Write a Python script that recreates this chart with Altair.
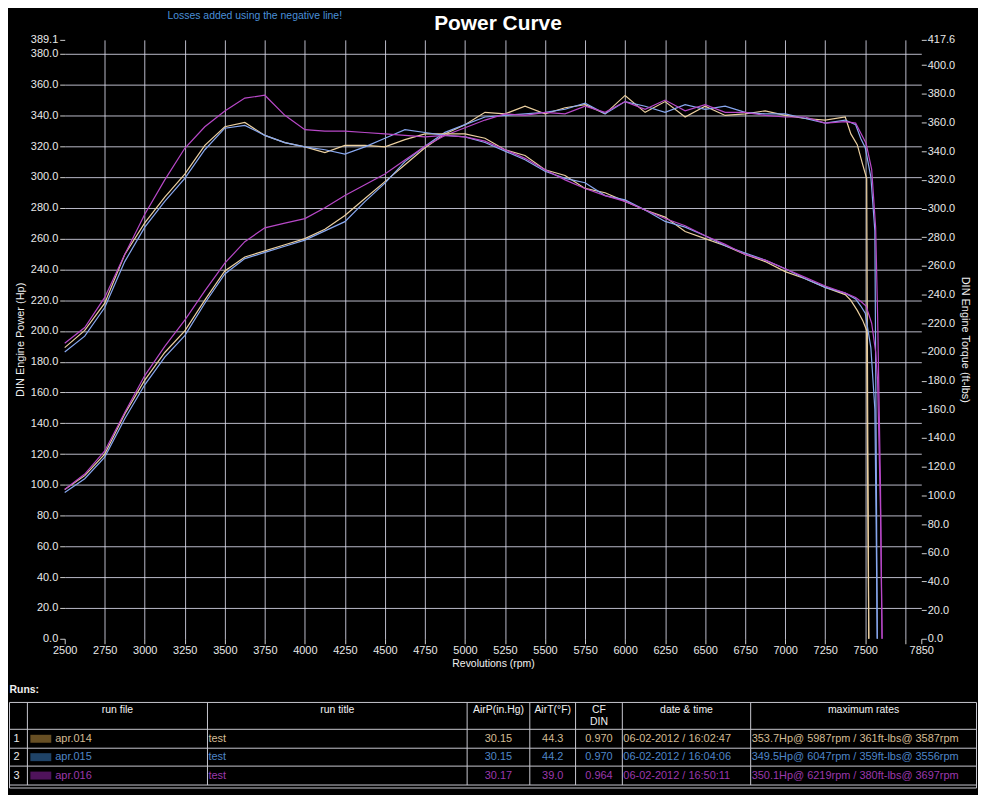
import altair as alt
import pandas as pd

# ---------------- text ----------------
title_text = "Power Curve"
note_text = "Losses added using the negative line!"
x_title = "Revolutions (rpm)"
y_left_title = "DIN Engine Power (Hp)"
y_right_title = "DIN Engine Torque (ft-lbs)"

# ---------------- runs ----------------
run_ids = ["1", "2", "3"]
run_files = ["apr.014", "apr.015", "apr.016"]
run_titles = ["test", "test", "test"]
air_p = ["30.15", "30.15", "30.17"]
air_t = ["44.3", "44.2", "39.0"]
cf_din = ["0.970", "0.970", "0.964"]
date_time = ["06-02-2012 / 16:02:47", "06-02-2012 / 16:04:06", "06-02-2012 / 16:50:11"]
max_rates = [
    "353.7Hp@ 5987rpm / 361ft-lbs@ 3587rpm",
    "349.5Hp@ 6047rpm / 359ft-lbs@ 3556rpm",
    "350.1Hp@ 6219rpm / 380ft-lbs@ 3697rpm",
]
header_labels = ["", "run file", "run title", "AirP(in.Hg)", "AirT(°F)", "CF\nDIN", "date & time", "maximum rates"]

# ---------------- curves ----------------
rpm_common = [2500, 2625, 2750, 2875, 3000, 3125, 3250, 3375, 3500, 3625,
              3750, 3875, 4000, 4125, 4250, 4375, 4500, 4625, 4750, 4875,
              5000, 5125, 5250, 5375, 5500, 5625, 5750, 5875, 6000, 6125,
              6250, 6375, 6500, 6625, 6750, 6875, 7000, 7125, 7250, 7375]

power_1 = [97, 106, 120, 146, 168, 186, 200, 220, 239, 248,
           252, 256, 260, 266, 275, 286, 297, 308, 319, 328,
           334, 342, 341, 346, 341, 345, 347, 341, 353, 342,
           349, 339, 346, 340, 341, 343, 340, 338, 337, 339]
power_2 = [95, 104, 118, 143, 165, 183, 197, 218, 237, 247,
           251, 255, 259, 265, 271, 284, 296, 310, 320, 329,
           334, 339, 340, 341, 342, 344, 348, 341, 349, 346,
           342, 347, 344, 346, 342, 341, 341, 338, 335, 337]
power_3 = [97, 107, 122, 147, 171, 190, 207, 226, 244, 258,
           267, 270, 273, 280, 288, 295, 302, 311, 320, 327,
           332, 337, 341, 340, 342, 341, 346, 342, 349, 344,
           350, 343, 347, 342, 342, 340, 339, 339, 335, 336]

torque_1 = [203, 215, 234, 268, 290, 308, 324, 344, 357, 360,
            351, 346, 343, 339, 344, 344, 343, 348, 352, 352,
            352, 349, 341, 337, 327, 323, 314, 311, 305, 299,
            294, 284, 279, 274, 268, 263, 256, 251, 245, 240]
torque_2 = [200, 211, 231, 263, 287, 305, 321, 341, 356, 358,
            351, 346, 343, 341, 338, 343, 349, 355, 353, 351,
            350, 346, 340, 334, 326, 321, 318, 309, 306, 299,
            291, 287, 281, 274, 269, 264, 258, 251, 245, 241]
torque_3 = [206, 217, 238, 268, 296, 320, 342, 357, 368, 377,
            379, 365, 355, 354, 354, 353, 352, 351, 350, 351,
            350, 347, 341, 335, 327, 320, 314, 309, 305, 299,
            293, 288, 281, 275, 268, 264, 258, 252, 246, 241]

# end of pull / drop to zero
tail_rpm_1 = [7410, 7450, 7484, 7509, 7515, 7522]
tail_power_1 = [328, 321, 308, 299, 150, 0]
tail_torque_1 = [236, 229, 222, 215, 110, 0]
tail_rpm_2 = [7440, 7472, 7500, 7535, 7560, 7568, 7575]
tail_power_2 = [334, 325, 319, 300, 265, 130, 0]
tail_torque_2 = [237, 232, 227, 203, 160, 80, 0]
tail_rpm_3 = [7440, 7475, 7505, 7540, 7565, 7577, 7595, 7605]
tail_power_3 = [335, 328, 322, 305, 267, 211, 100, 0]
tail_torque_3 = [238, 235, 232, 220, 200, 180, 90, 0]

x_tick_values = [2500, 2750, 3000, 3250, 3500, 3750, 4000, 4250, 4500, 4750, 5000,
                 5250, 5500, 5750, 6000, 6250, 6500, 6750, 7000, 7250, 7500, 7750, 7850]
y_left_ticks = [0, 20, 40, 60, 80, 100, 120, 140, 160, 180, 200, 220, 240, 260,
                280, 300, 320, 340, 360, 380, 389.1]
y_right_ticks = [0, 20, 40, 60, 80, 100, 120, 140, 160, 180, 200, 220, 240, 260,
                 280, 300, 320, 340, 360, 380, 400, 417.6]

# ---------------- styles ----------------
line_colors = ["#ecd0a0", "#88a8f0", "#b848c8"]
text_colors = ["#d4bc94", "#4f86c8", "#9c38ac"]
swatch_colors = ["#8a6a30", "#2a5a8a", "#6a1a7a"]
FONT = "Liberation Sans"

# ---------------- build curve table ----------------
rows = []
series = [
    (power_1, torque_1, tail_rpm_1, tail_power_1, tail_torque_1),
    (power_2, torque_2, tail_rpm_2, tail_power_2, tail_torque_2),
    (power_3, torque_3, tail_rpm_3, tail_power_3, tail_torque_3),
]
for name, (pw, tq, trpm, tpw, ttq) in zip(run_files, series):
    for i, (r, h, t) in enumerate(zip(rpm_common + trpm, pw + tpw, tq + ttq)):
        rows.append({"run": name, "idx": i, "rpm": r, "hp": h, "tq": t})
curves = pd.DataFrame(rows)

color = alt.Color("run:N", scale=alt.Scale(domain=run_files, range=line_colors), legend=None)
x_enc = alt.X(
    "rpm:Q",
    scale=alt.Scale(domain=[2500, 7850], nice=False, zero=False),
    axis=alt.Axis(
        values=x_tick_values, format="d",
        labelExpr="datum.value == 7750 ? '' : datum.label",
        title=x_title, tickSize=5, labelPadding=1, titlePadding=3,
        labelFlush=False, labelOverlap=False, titleFontSize=10.5,
        gridOpacity={"condition": {"test": "datum.value == 2500 || datum.value == 7850", "value": 0},
                     "value": 0.85},
    ),
)

power_layer = alt.Chart(curves).mark_line(strokeWidth=1.2).encode(
    x=x_enc,
    y=alt.Y(
        "hp:Q",
        scale=alt.Scale(domain=[0, 389.1], nice=False, zero=True),
        axis=alt.Axis(
            values=y_left_ticks, format=".1f", title=y_left_title, tickSize=5,
            labelPadding=2, titlePadding=5, labelOverlap=False, labelFlush=False,
            gridOpacity={"condition": {"test": "datum.value == 0 || datum.value > 385", "value": 0},
                         "value": 0.85},
        ),
    ),
    color=color,
    order="idx:Q",
)

torque_layer = alt.Chart(curves).mark_line(strokeWidth=1.2).encode(
    x=x_enc,
    y=alt.Y(
        "tq:Q",
        scale=alt.Scale(domain=[0, 417.6], nice=False, zero=True),
        axis=alt.Axis(
            orient="right", values=y_right_ticks, format=".1f", title=y_right_title,
            tickSize=5, labelPadding=1, titlePadding=5, grid=False,
            labelOverlap=False, labelFlush=False,
        ),
    ),
    color=color,
    order="idx:Q",
)

note = alt.Chart(pd.DataFrame({"t": [note_text]})).mark_text(
    font=FONT, fontSize=10.5, color="#4a8fd8", align="center", baseline="middle"
).encode(text="t:N", x=alt.value(191), y=alt.value(-24))

main = alt.layer(power_layer, torque_layer, note).resolve_scale(y="independent").properties(
    width=861, height=602,
    title=alt.TitleParams(title_text, font=FONT, fontSize=21, fontWeight="bold",
                          color="#ffffff", anchor="middle", offset=9, dx=5, dy=32),
)

# ---------------- runs table ----------------
col_edges = [8, 26, 207, 468, 531, 577, 624, 753, 980]
row_edges = [704, 731, 750, 768, 787]
table_bottom = 790
header_top = 707
runs_label_y = 691

col_centers = [(a + b) / 2 for a, b in zip(col_edges[:-1], col_edges[1:])]
row_centers = [(row_edges[i] + row_edges[i + 1]) / 2 for i in range(1, 4)]

tx = alt.Scale(domain=[63.5, 924.5], nice=False, zero=False)
ty = alt.Scale(domain=[684, 794], nice=False, zero=False, reverse=True)

hl = pd.DataFrame({
    "x": [col_edges[0]] * 6, "x2": [col_edges[-1]] * 6,
    "y": row_edges + [table_bottom],
})
vl = pd.DataFrame({
    "x": col_edges,
    "y": [row_edges[0]] * len(col_edges),
    "y2": [table_bottom] + [row_edges[-1]] * (len(col_edges) - 2) + [table_bottom],
})

hrule = alt.Chart(hl).mark_rule(color="#c8c8d0", strokeWidth=1).encode(
    x=alt.X("x:Q", scale=tx, axis=None), x2="x2:Q", y=alt.Y("y:Q", scale=ty, axis=None))
vrule = alt.Chart(vl).mark_rule(color="#c8c8d0", strokeWidth=1).encode(
    x=alt.X("x:Q", scale=tx, axis=None), y=alt.Y("y:Q", scale=ty, axis=None), y2="y2:Q")

sw = pd.DataFrame({
    "x": [col_edges[1] + 3] * 3, "x2": [col_edges[1] + 24] * 3,
    "y": [c - 4 for c in row_centers], "y2": [c + 4 for c in row_centers],
    "c": swatch_colors,
})
swatch = alt.Chart(sw).mark_rect(opacity=0.75).encode(
    x=alt.X("x:Q", scale=tx, axis=None), x2="x2:Q",
    y=alt.Y("y:Q", scale=ty, axis=None), y2="y2:Q",
    color=alt.Color("c:N", scale=None))

hd = pd.DataFrame({"x": col_centers[1:], "y": [header_top] * 7, "t": header_labels[1:]})
header = alt.Chart(hd).mark_text(
    font=FONT, fontSize=10.5, color="#f0f0f0", align="center", baseline="top", lineBreak="\n", lineHeight=12
).encode(x=alt.X("x:Q", scale=tx, axis=None), y=alt.Y("y:Q", scale=ty, axis=None), text="t:N")

cc, cl = [], []
for i in range(3):
    y = row_centers[i]
    cc.append({"x": col_centers[0] - 2, "y": y, "t": run_ids[i], "c": "#e8e8e8"})
    cc.append({"x": col_centers[3], "y": y, "t": air_p[i], "c": text_colors[i]})
    cc.append({"x": col_centers[4], "y": y, "t": air_t[i], "c": text_colors[i]})
    cc.append({"x": col_centers[5], "y": y, "t": cf_din[i], "c": text_colors[i]})
    cl.append({"x": col_edges[1] + 28, "y": y, "t": run_files[i], "c": text_colors[i]})
    cl.append({"x": col_edges[2] + 1, "y": y, "t": run_titles[i], "c": text_colors[i]})
    cl.append({"x": col_edges[6] + 1, "y": y, "t": date_time[i], "c": text_colors[i]})
    cl.append({"x": col_edges[7] + 1, "y": y, "t": max_rates[i], "c": text_colors[i]})

row_c = alt.Chart(pd.DataFrame(cc)).mark_text(
    font=FONT, fontSize=11, align="center", baseline="middle"
).encode(x=alt.X("x:Q", scale=tx, axis=None), y=alt.Y("y:Q", scale=ty, axis=None),
         text="t:N", color=alt.Color("c:N", scale=None))
row_l = alt.Chart(pd.DataFrame(cl)).mark_text(
    font=FONT, fontSize=11, align="left", baseline="middle"
).encode(x=alt.X("x:Q", scale=tx, axis=None), y=alt.Y("y:Q", scale=ty, axis=None),
         text="t:N", color=alt.Color("c:N", scale=None))
runs_lbl = alt.Chart(pd.DataFrame({"x": [col_edges[0]], "y": [runs_label_y], "t": ["Runs:"]})).mark_text(
    font=FONT, fontSize=10.5, fontWeight="bold", color="#f0f0f0", align="left", baseline="middle"
).encode(x=alt.X("x:Q", scale=tx, axis=None), y=alt.Y("y:Q", scale=ty, axis=None), text="t:N")

table = alt.layer(hrule, vrule, swatch, header, row_c, row_l, runs_lbl).properties(width=861, height=110)

chart = alt.vconcat(main, table, spacing=44, bounds="flush", padding=0).configure(
    background="#000000", font=FONT
).configure_view(stroke="transparent").configure_axis(
    domain=False, labelColor="#e8e8e8", labelFont=FONT, labelFontSize=11,
    tickColor="#cfcfcf", titleColor="#f0f0f0", titleFont=FONT, titleFontSize=11,
    titleFontWeight="normal", gridColor="#dcdcec", gridWidth=1,
)

chart.save("out.html", embed_options={"renderer": "svg", "actions": False})
